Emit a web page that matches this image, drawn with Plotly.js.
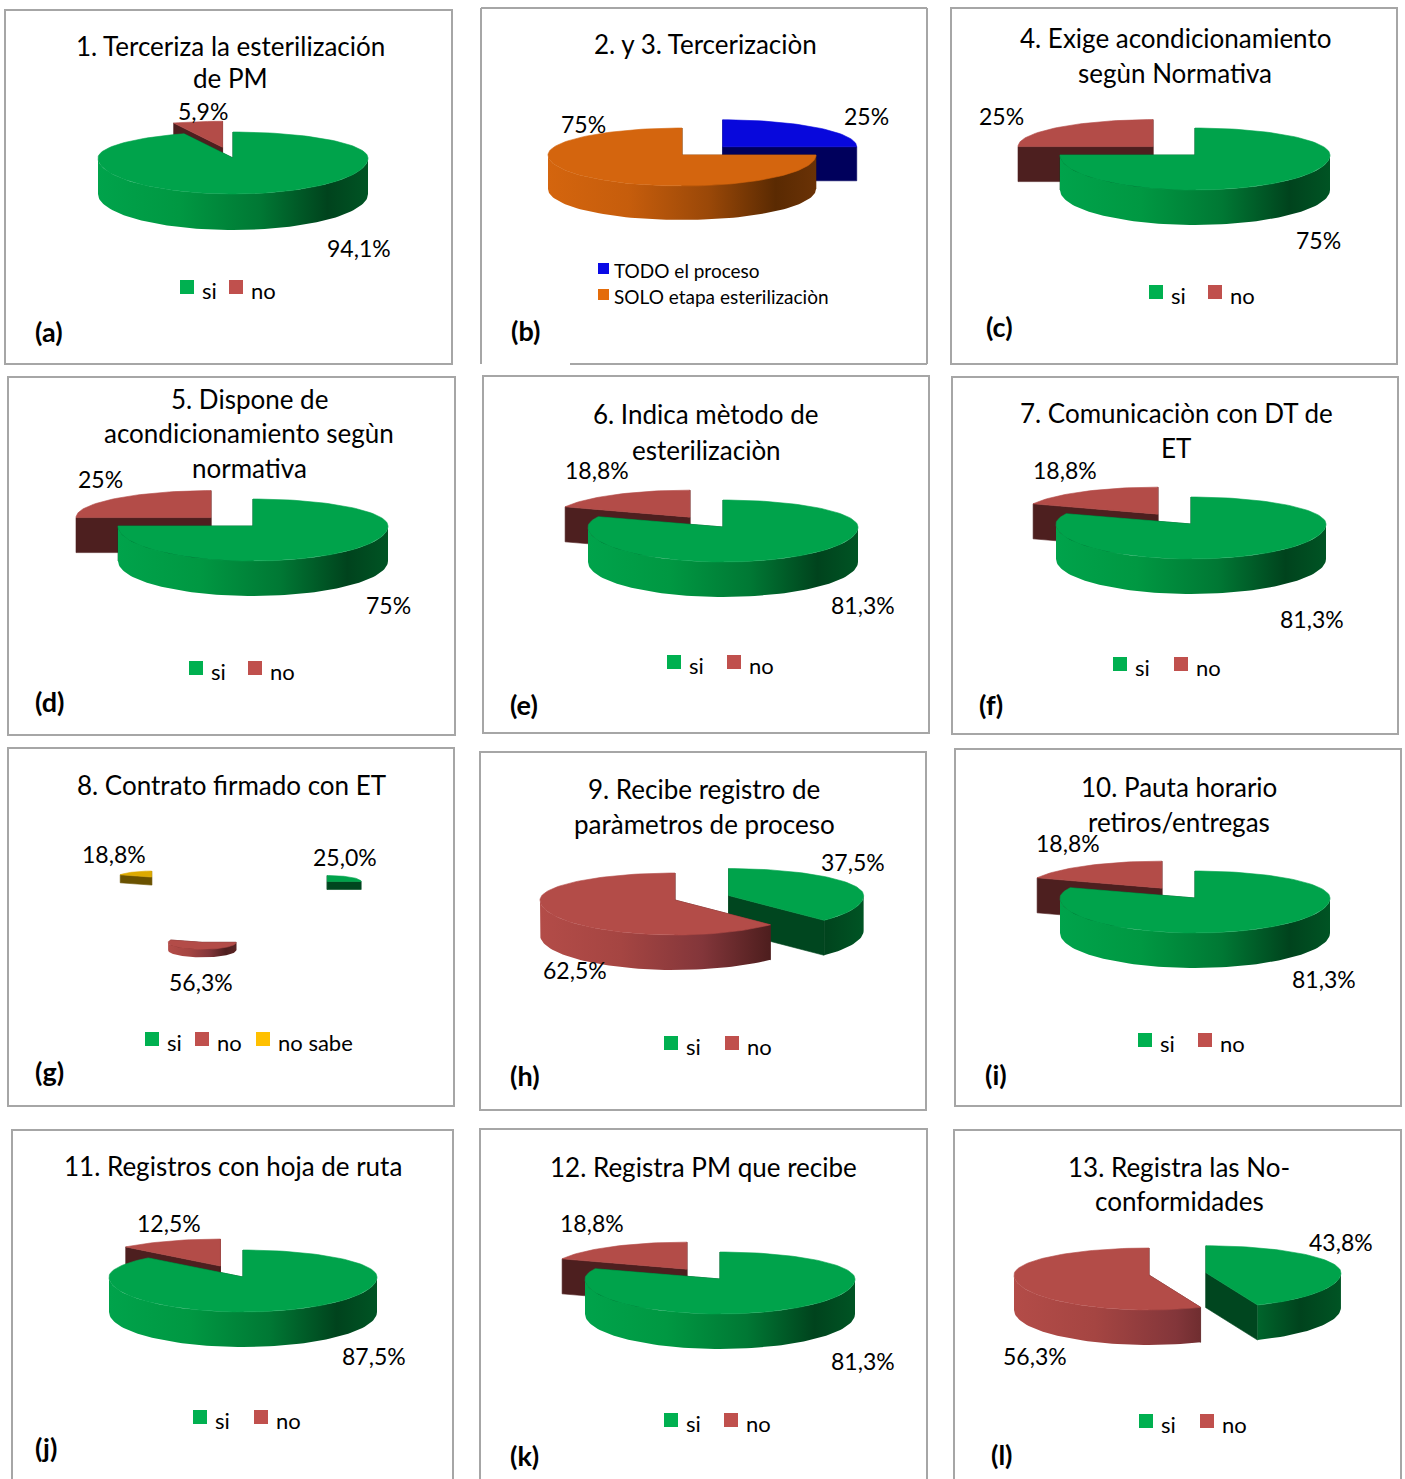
<!DOCTYPE html>
<html><head><meta charset="utf-8">
<script src="https://cdn.plot.ly/plotly-3.0.1.min.js"></script>
<style>body{margin:0;background:#fff}</style>
</head><body>
<div id="chart" style="width:1405px;height:1479px"></div>
<script>
// ---------------- DATA ----------------
const titles = [
  ['1. Terceriza la esterilización', 'de PM'],
  ['2. y 3. Tercerizaciòn'],
  ['4. Exige acondicionamiento', 'segùn Normativa'],
  ['5. Dispone de', 'acondicionamiento segùn', 'normativa'],
  ['6. Indica mètodo de', 'esterilizaciòn'],
  ['7. Comunicaciòn con DT de', 'ET'],
  ['8. Contrato firmado con ET'],
  ['9. Recibe registro de', 'paràmetros de proceso'],
  ['10. Pauta horario', 'retiros/entregas'],
  ['11. Registros con hoja de ruta'],
  ['12. Registra PM que recibe'],
  ['13. Registra las No-', 'conformidades']
];
const panelLetters = ['(a)','(b)','(c)','(d)','(e)','(f)','(g)','(h)','(i)','(j)','(k)','(l)'];
const catsSiNo = ['si', 'no'];
const catsB = ['TODO el proceso', 'SOLO etapa esterilizaciòn'];
const catsG = ['si', 'no', 'no sabe'];

const valsA = [94.1, 5.9];
const valsB = [25, 75];
const valsC = [75, 25];
const valsD = [75, 25];
const valsE = [81.3, 18.8];
const valsF = [81.3, 18.8];
const valsG = [25.0, 56.3, 18.8];
const valsH = [37.5, 62.5];
const valsI = [81.3, 18.8];
const valsJ = [87.5, 12.5];
const valsK = [81.3, 18.8];
const valsL = [43.8, 56.3];

// ---------------- STYLES ----------------
const FONT = 'Lato, "Open Sans", "Liberation Sans", sans-serif';
const PAL = {
  si:   {top:'#00A34B', face:'#00461F', leg:'#00B050',
         wall:[[0,'#00A34B'],[0.3,'#009842'],[0.6,'#007834'],[0.85,'#00431D'],[1,'#005424']]},
  no:   {top:'#B34C48', face:'#4D1F1F', leg:'#C0504D',
         wall:[[0,'#B34C48'],[0.3,'#A54542'],[0.6,'#83363A'],[0.85,'#4E1E1E'],[1,'#5A2424']]},
  nosabe:{top:'#DDAA00', face:'#6A5200', leg:'#FFC000',
         wall:[[0,'#C89B00'],[0.5,'#9A7600'],[1,'#5A4500']]},
  todo: {top:'#0808DC', face:'#00005C', leg:'#0A0AE6',
         wall:[[0,'#0808DC'],[0.5,'#05059A'],[1,'#00005A']]},
  solo: {top:'#D4650E', face:'#5A2A02', leg:'#E46C0A',
         wall:[[0,'#D4650E'],[0.3,'#C65D0C'],[0.6,'#9A4808'],[0.85,'#5A2A02'],[1,'#6A3206']]}
};
const TITLE_SIZE = 26, LABEL_SIZE = 23, LEG_SIZE = 22, LETTER_SIZE = 27;

const base = {rx:134, ryb:27, ryf:35, depth:35};
const panels = [
  {vals:valsA, cats:catsSiNo, pal:['si','no'], dec:1, box:[5,10,452,364],
   pie:{cx:233, cy:158, rx:135, ryb:26, ryf:36, depth:36}, explode:[0,0.42],
   labels:[[359,248],[203,111]], tx:230, ty:[46,78], legY:287, legX:[180,229], letter:[49,331]},
  {vals:valsB, cats:catsB, pal:['todo','solo'], dec:0, box:[481,8,927,364], gap:[481,570],
   pie:{cx:682, cy:155, ryf:31, depth:34}, explode:[0.43,0],
   labels:[[866,116],[583,124]], tx:705, ty:[44], vertical:true, legX:[598], legYs:[269,295], letter:[525,330]},
  {vals:valsC, cats:catsSiNo, pal:['si','no'], dec:0, box:[951,8,1397,364],
   pie:{cx:1195, cy:155, rx:135}, explode:[0,0.44],
   labels:[[1318,240],[1001,116]], tx:1175, ty:[38,73], legY:292, legX:[1149,1208], letter:[999,326]},
  {vals:valsD, cats:catsSiNo, pal:['si','no'], dec:0, box:[8,377,455,735],
   pie:{cx:253, cy:526, rx:135}, explode:[0,0.44],
   labels:[[388,605],[100,479]], tx:249, ty:[399,433,468], legY:668, legX:[189,248], letter:[49,701]},
  {vals:valsE, cats:catsSiNo, pal:['si','no'], dec:1, box:[483,376,929,733],
   pie:{cx:723, cy:527, rx:135}, explode:[0,0.44],
   labels:[[863,605],[597,470]], tx:706, ty:[414,450], legY:662, legX:[667,727], letter:[524,704]},
  {vals:valsF, cats:catsSiNo, pal:['si','no'], dec:1, box:[952,377,1398,734],
   pie:{cx:1191, cy:524, rx:135}, explode:[0,0.44],
   labels:[[1312,619],[1065,470]], tx:1176, ty:[413,448], legY:664, legX:[1113,1174], letter:[991,704]},
  {vals:valsG, cats:catsG, pal:['si','no','nosabe'], dec:1, box:[8,748,454,1106],
   pie:{cx:229, cy:907, rx:34, ryb:6, ryf:7, depth:8, ex:139, ey:36}, explode:[1,1,1],
   labels:[[345,857],[201,982],[114,854]], tx:231, ty:[785], legY:1039, legX:[145,195,256], letter:[49,1071]},
  {vals:valsH, cats:catsSiNo, pal:['si','no'], dec:1, box:[480,752,926,1110],
   pie:{cx:675, cy:900, rx:135}, explode:[0.43,0],
   labels:[[853,862],[575,970]], tx:704, ty:[789,824], legY:1043, legX:[664,725], letter:[525,1075]},
  {vals:valsI, cats:catsSiNo, pal:['si','no'], dec:1, box:[955,749,1401,1106],
   pie:{cx:1195, cy:898, rx:135}, explode:[0,0.44],
   labels:[[1324,979],[1068,843]], tx:1179, ty:[787,822], legY:1040, legX:[1138,1198], letter:[996,1074]},
  {vals:valsJ, cats:catsSiNo, pal:['si','no'], dec:1, box:[12,1130,453,1495],
   pie:{cx:243, cy:1277}, explode:[0,0.44],
   labels:[[374,1356],[169,1223]], tx:233, ty:[1166], legY:1417, legX:[193,254], letter:[46,1447]},
  {vals:valsK, cats:catsSiNo, pal:['si','no'], dec:1, box:[480,1129,927,1495],
   pie:{cx:720, cy:1279, rx:135}, explode:[0,0.44],
   labels:[[863,1361],[592,1223]], tx:703, ty:[1167], legY:1420, legX:[664,724], letter:[524,1455]},
  {vals:valsL, cats:catsSiNo, pal:['si','no'], dec:1, box:[954,1130,1401,1495],
   pie:{cx:1149, cy:1275, rx:135}, explode:[0.43,0],
   labels:[[1341,1242],[1035,1356]], tx:1179, ty:[1167,1201], legY:1421, legX:[1139,1200], letter:[1002,1454]}
];

// ---------------- BUILD ----------------
const traces = [];
const shapes = [];
const annotations = [];

function poly(xs, ys, color, grad) {
  const t = {x: xs.concat([xs[0]]), y: ys.concat([ys[0]]), mode:'lines', fill:'toself',
    line:{width: grad ? 0 : 0.6, color: color}, fillcolor: color,
    hoverinfo:'skip', showlegend:false};
  if (grad) t.fillgradient = grad;
  traces.push(t);
}

function drawPie(p) {
  const P = Object.assign({}, base, p.pie);
  const total = p.vals.reduce((a, b) => a + b, 0);
  let acc = 0;
  const slices = p.vals.map((v, i) => {
    const a0 = acc / total * 2 * Math.PI; acc += v;
    const a1 = acc / total * 2 * Math.PI;
    const mid = (a0 + a1) / 2;
    const e = p.explode[i];
    return {i, a0, a1, ox: e * (P.ex || P.rx) * Math.sin(mid), oy: -e * (P.ey || P.ryb) * Math.cos(mid)};
  });
  slices.sort((a, b) => a.oy - b.oy);
  slices.forEach(s => {
    const col = PAL[p.pal[s.i]];
    const cx = P.cx + s.ox, cy = P.cy + s.oy;
    const pt = (th, dz) => {
      const c = Math.cos(th);
      return [cx + P.rx * Math.sin(th), cy - (c > 0 ? P.ryb : P.ryf) * c + dz];
    };
    [s.a0, s.a1].forEach(a => {
      const r0 = pt(a, 0), r1 = pt(a, P.depth);
      poly([cx, r0[0], r1[0], cx], [cy, r0[1], r1[1], cy + P.depth], col.face);
    });
    const w0 = Math.max(s.a0, Math.PI / 2), w1 = Math.min(s.a1, 1.5 * Math.PI);
    if (w1 > w0) {
      const n = Math.max(4, Math.ceil((w1 - w0) / (2 * Math.PI) * 160));
      const xs = [], ys = [];
      for (let k = 0; k <= n; k++) { const q = pt(w0 + (w1 - w0) * k / n, 0); xs.push(q[0]); ys.push(q[1]); }
      for (let k = n; k >= 0; k--) { const q = pt(w0 + (w1 - w0) * k / n, P.depth); xs.push(q[0]); ys.push(q[1]); }
      poly(xs, ys, col.top, {type:'horizontal', colorscale: col.wall, start: cx - P.rx, stop: cx + P.rx});
    }
    const n = Math.max(4, Math.ceil((s.a1 - s.a0) / (2 * Math.PI) * 160));
    const xs = [cx], ys = [cy];
    for (let k = 0; k <= n; k++) { const q = pt(s.a0 + (s.a1 - s.a0) * k / n, 0); xs.push(q[0]); ys.push(q[1]); }
    poly(xs, ys, col.top);
  });
}

function txt(x, y, text, size, opts) {
  annotations.push(Object.assign({x, y, xref:'x', yref:'y', text, showarrow:false, borderpad:0,
    xanchor:'center', yanchor:'middle', font:{family:FONT, size, color:'#000'}}, opts || {}));
}

panels.forEach((p, idx) => {
  const [x0, y0, x1, y1] = p.box;
  const lc = {color:'#A6A6A6', width:2};
  if (p.gap) {
    shapes.push({type:'line', xref:'x', yref:'y', x0, y0, x1, y1:y0, line:lc});
    shapes.push({type:'line', xref:'x', yref:'y', x0, y0, x1:x0, y1, line:lc});
    shapes.push({type:'line', xref:'x', yref:'y', x0:x1, y0, x1, y1, line:lc});
    shapes.push({type:'line', xref:'x', yref:'y', x0:p.gap[1], y0:y1, x1, y1, line:lc});
  } else {
    shapes.push({type:'rect', xref:'x', yref:'y', x0, y0, x1, y1, line:lc, fillcolor:'rgba(0,0,0,0)'});
  }
  drawPie(p);
  titles[idx].forEach((line, j) => txt(p.tx, p.ty[j], line, TITLE_SIZE));
  p.vals.forEach((v, i) => {
    const s = v.toFixed(p.dec).replace('.', ',') + '%';
    txt(p.labels[i][0], p.labels[i][1], s, LABEL_SIZE);
  });
  if (p.vertical) {
    p.cats.forEach((c, i) => {
      const y = p.legYs[i];
      shapes.push({type:'rect', xref:'x', yref:'y', x0:p.legX[0], x1:p.legX[0] + 11, y0:y - 6, y1:y + 5,
        line:{width:0}, fillcolor:PAL[p.pal[i]].leg});
      txt(p.legX[0] + 15, y + 1, c, 19, {xanchor:'left'});
    });
  } else {
    p.cats.forEach((c, i) => {
      const x = p.legX[i];
      shapes.push({type:'rect', xref:'x', yref:'y', x0:x, x1:x + 14, y0:p.legY - 7, y1:p.legY + 7,
        line:{width:0}, fillcolor:PAL[p.pal[i]].leg});
      txt(x + 21, p.legY + 3, c, LEG_SIZE, {xanchor:'left'});
    });
  }
  txt(p.letter[0], p.letter[1], '<b>' + panelLetters[idx] + '</b>', LETTER_SIZE);
});

const layout = {
  width:1405, height:1479, margin:{l:0, r:0, t:0, b:0},
  paper_bgcolor:'#fff', plot_bgcolor:'#fff', showlegend:false,
  xaxis:{range:[0,1405], visible:false, fixedrange:true},
  yaxis:{range:[1479,0], visible:false, fixedrange:true},
  shapes, annotations
};
Plotly.newPlot('chart', traces, layout, {staticPlot:true, displayModeBar:false});
</script>
</body></html>
